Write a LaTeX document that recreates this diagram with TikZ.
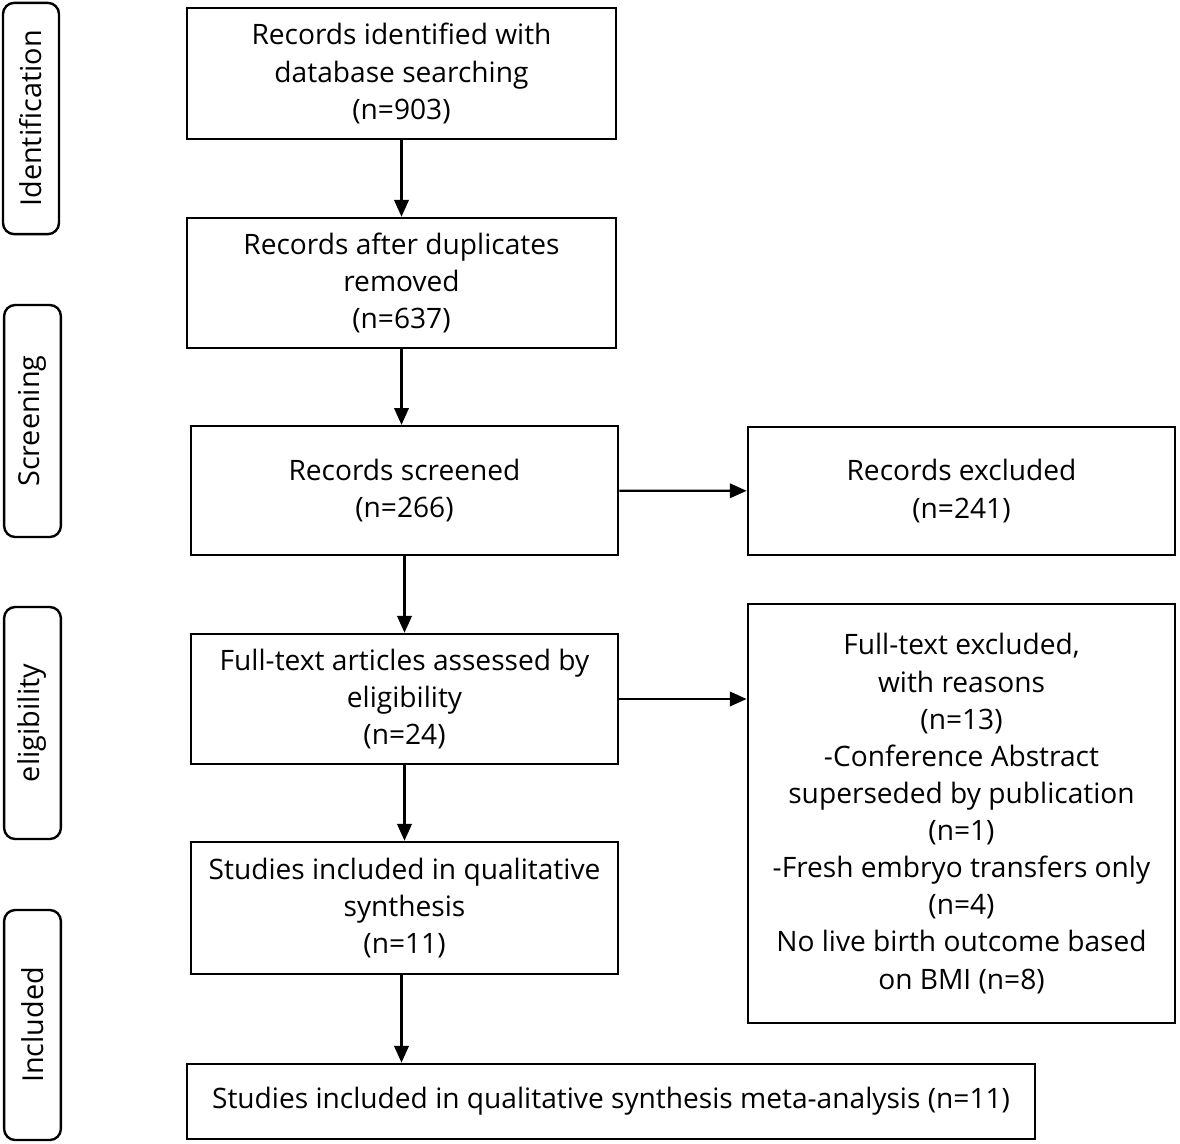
\documentclass[tikz,border=0pt]{standalone}
\usepackage{fontspec}
\setmainfont{Open Sans}
\usetikzlibrary{arrows.meta,positioning}

\tikzset{
    stepbox/.style={draw, line width=1.7pt, align=center, inner sep=0pt,
        font=\fontsize{20}{26.4}\selectfont},
    stagebox/.style={draw, line width=1.7pt, rounded corners=0.28cm, rotate=90,
        inner sep=0pt, font=\fontsize{20.5}{24}\selectfont},
    flow/.style={-{Triangle[length=0.42cm,width=0.36cm]}, line width=1.7pt}
}

\begin{document}
\begin{tikzpicture}[x=0.025cm, y=-0.025cm]
    \useasboundingbox (0, 0) rectangle (1180, 1144);

    % stages on the left
    \node[stagebox, minimum width=5.78cm, minimum height=1.4cm] (ident) at (31, 118.5) {Identification};
    \node[stagebox, minimum width=5.8cm, minimum height=1.42cm] (screen) at (32.5, 421) {Screening};
    \node[stagebox, minimum width=5.8cm, minimum height=1.42cm] (elig) at (32.5, 723) {eligibility};
    \node[stagebox, minimum width=5.75cm, minimum height=1.42cm] (incl) at (32.5, 1025) {Included};

    % main flow
    \node[stepbox, minimum width=10.72cm, minimum height=3.27cm] (found) at (401.5, 73.5)
        {Records identified with\\database searching\\(n=903)};
    \node[stepbox, minimum width=10.72cm, minimum height=3.25cm] (dedup) at (401.5, 283)
        {Records after duplicates\\removed\\(n=637)};
    \node[stepbox, minimum width=10.68cm, minimum height=3.22cm] (screened) at (404.5, 490.5)
        {Records screened\\(n=266)};
    \node[stepbox, minimum width=10.68cm, minimum height=3.2cm] (excl) at (961.5, 491)
        {Records excluded\\(n=241)};
    \node[stepbox, minimum width=10.68cm, minimum height=3.25cm] (full) at (404.5, 699)
        {Full-text articles assessed by\\eligibility\\(n=24)};
    \node[stepbox, minimum width=10.68cm, minimum height=10.48cm] (fullexcl) at (961.5, 813.5)
        {Full-text excluded,\\with reasons\\(n=13)\\-Conference Abstract\\superseded by publication\\(n=1)\\-Fresh embryo transfers only\\(n=4)\\No live birth outcome based\\on BMI (n=8)};
    \node[stepbox, minimum width=10.68cm, minimum height=3.3cm] (qual) at (404.5, 908)
        {Studies included in qualitative\\synthesis\\(n=11)};
    \node[stepbox, minimum width=21.2cm, minimum height=1.88cm] (meta) at (611, 1101.5)
        {Studies included in qualitative synthesis meta-analysis (n=11)};

    \draw[flow] (found) -- (dedup);
    \draw[flow] (dedup.south) -- (dedup.south |- screened.north);
    \draw[flow] (screened) -- (excl);
    \draw[flow] (screened) -- (full);
    \draw[flow] (full.east) -- (full.east -| fullexcl.west);
    \draw[flow] (full) -- (qual);
    \draw[flow] (qual.south -| dedup.south) -- (dedup.south |- meta.north);
\end{tikzpicture}
\end{document}
